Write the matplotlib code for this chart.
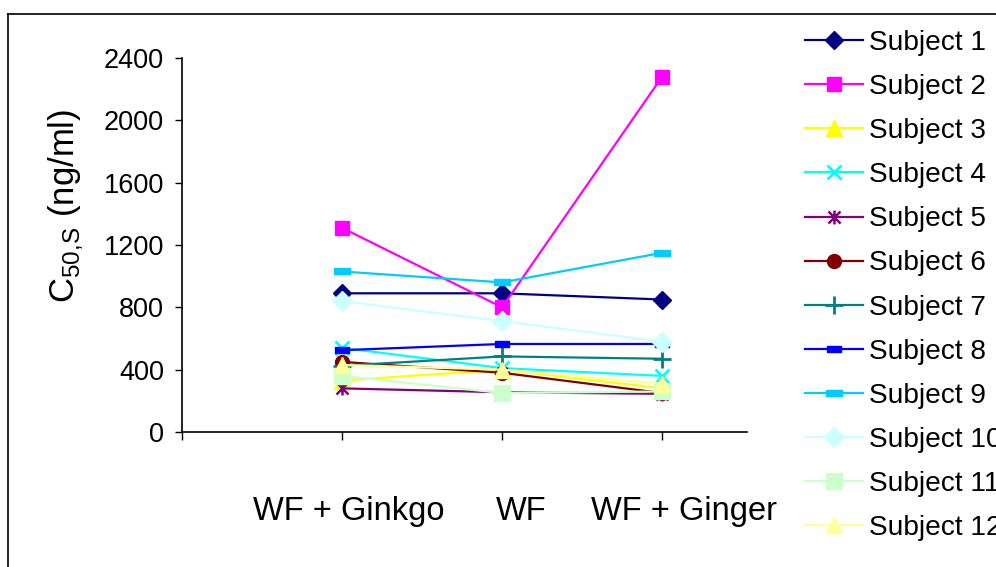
import matplotlib
matplotlib.use("Agg")
import matplotlib.pyplot as plt
import matplotlib.transforms as mtransforms
from matplotlib.path import Path
from matplotlib.lines import Line2D

plt.rcParams['font.family'] = ['Liberation Sans', 'DejaVu Sans']

treatments = ['WF + Ginkgo', 'WF', 'WF + Ginger']
subjects = ['Subject %d' % i for i in range(1, 13)]

s1 = [890, 890, 850]
s2 = [1310, 800, 2280]
s3 = [330, 400, 280]
s4 = [540, 410, 360]
s5 = [280, 255, 245]
s6 = [450, 380, 250]
s7 = [425, 485, 470]
s8 = [525, 565, 565]
s9 = [1030, 960, 1150]
s10 = [840, 712, 580]
s11 = [360, 250, 260]
s12 = [430, 400, 310]
values = [s1, s2, s3, s4, s5, s6, s7, s8, s9, s10, s11, s12]

y_ticks = [0, 400, 800, 1200, 1600, 2000, 2400]

# Excel-style marker shapes
dash = Path([(-1, -0.38), (1, -0.38), (1, 0.38), (-1, 0.38), (-1, -0.38)],
            [Path.MOVETO, Path.LINETO, Path.LINETO, Path.LINETO, Path.CLOSEPOLY])
star = Path([(-1, -1), (1, 1), (-1, 1), (1, -1), (0, -1.15), (0, 1.15)],
            [Path.MOVETO, Path.LINETO, Path.MOVETO, Path.LINETO, Path.MOVETO, Path.LINETO])

styles = [
    dict(color='#000080', marker='D', ms=9.5),
    dict(color='#FF00FF', marker='s', ms=9.5),
    dict(color='#FFFF00', marker='^', ms=11),
    dict(color='#00FFFF', marker='x', ms=10, mew=2),
    dict(color='#800080', marker=star, ms=10, mew=1.8, mfc='none'),
    dict(color='#800000', marker='o', ms=10),
    dict(color='#008080', marker='+', ms=13, mew=2),
    dict(color='#0000FF', marker=dash, ms=10),
    dict(color='#00CCFF', marker=dash, ms=12),
    dict(color='#CCFFFF', marker='D', ms=10),
    dict(color='#CCFFCC', marker='s', ms=11),
    dict(color='#FFFF99', marker='^', ms=12),
]

fig = plt.figure(figsize=(9.96, 5.67), dpi=100)
ax = fig.add_axes([182 / 996, 1 - 432 / 567, (747 - 182) / 996, (432 - 58) / 567])

x = [0, 1, 2]
for name, vals, st in zip(subjects, values, styles):
    kw = dict(st)
    color = kw.pop('color')
    ax.plot(x, vals, color=color, lw=1.6, mec=color,
            mfc=kw.pop('mfc', color), label=name, clip_on=False, **kw)

ax.set_xlim(-1.0, 2.53)
ax.set_ylim(0, 2400)
ax.set_yticks(y_ticks)
ax.set_yticklabels([str(v) for v in y_ticks], fontsize=19.5)
ax.set_xticks([-1, 0, 1, 2])
ax.set_xticklabels([''] + treatments, fontsize=23.5)
ax.tick_params(axis='y', direction='out', length=5, width=1, pad=8)
ax.tick_params(axis='x', direction='out', length=6, width=1, pad=40)

# category labels are nudged right, as the spreadsheet layout spreads them
for lab, dx in zip(ax.get_xticklabels()[1:], [7, 19, 22]):
    lab.set_transform(lab.get_transform() +
                      mtransforms.ScaledTranslation(dx / 100, 0, fig.dpi_scale_trans))

for side in ('top', 'right'):
    ax.spines[side].set_visible(False)
for side in ('left', 'bottom'):
    ax.spines[side].set_linewidth(1.2)

ax.set_ylabel(r'C$_{\mathregular{50{,}S}}$ (ng/ml)', fontsize=25)
ax.yaxis.set_label_coords(-0.172, 0.604)

leg = ax.legend(loc='upper left', bbox_to_anchor=(805 / 996, 1 - 30 / 567),
                bbox_transform=fig.transFigure, frameon=False, fontsize=20.2,
                handlelength=2.05, handletextpad=0.22, labelspacing=0.645,
                borderaxespad=0, borderpad=0)

# outer chart border
fig.add_artist(Line2D([8 / 996, 8 / 996], [0, 1 - 14 / 567], color='black', lw=1.2,
                      transform=fig.transFigure))
fig.add_artist(Line2D([8 / 996, 1], [1 - 14 / 567, 1 - 14 / 567], color='black', lw=1.2,
                      transform=fig.transFigure))

fig.savefig('out.png', dpi=100)
